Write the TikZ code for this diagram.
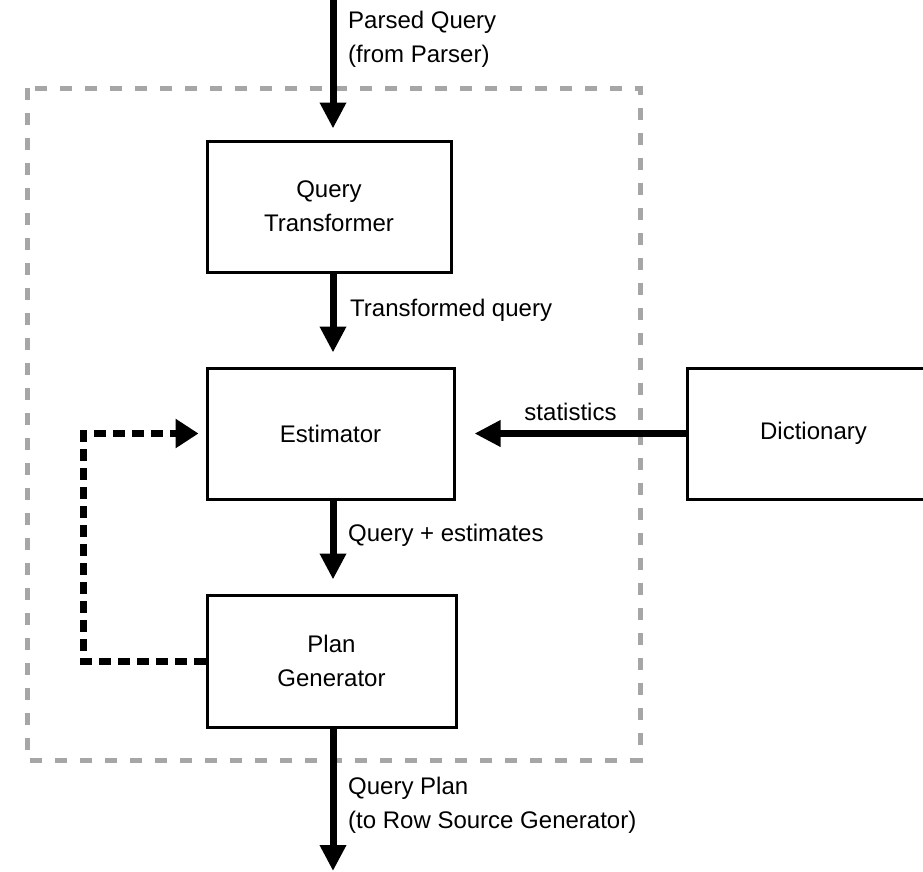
\documentclass[tikz,border=0pt]{standalone}
\usepackage{fontspec}
\setmainfont{Liberation Sans}
\usetikzlibrary{arrows.meta,calc,positioning}
\tikzset{
  box/.style={draw, line width=3pt, minimum width=244pt, minimum height=131pt, align=center, inner sep=0pt},
  flow/.style={line width=7pt, -{Triangle[length=26pt,width=25pt]}},
  feedback/.style={line width=7pt, dash pattern=on 12pt off 7pt, -{Triangle[length=23pt,width=28pt]}},
  frame/.style={black!35, line width=5pt, dash pattern=on 12pt off 13pt},
  note/.style={align=left, anchor=west, inner sep=0pt},
}
\begin{document}
\begin{tikzpicture}[x=1pt,y=-1pt,font=\fontsize{24}{34}\selectfont]
            \useasboundingbox (0,0) rectangle (923,871);
            % Optimizer frame
            \draw[frame] (27,88) rectangle (640,760);
            % Boxes
            \node[box] (qt) at (329,206.5) {Query\\Transformer};
            \node[box, minimum width=247pt] (est) at (330.5,433.5) {Estimator};
            \node[box, minimum width=249pt, minimum height=132pt] (plan) at (331.5,661) {Plan\\Generator};
            \node[box, minimum width=253pt] (dict) at (813.5,433.5) {Dictionary};
            % Define points
            \coordinate (in) at (333,0);
            \coordinate (out) at (333,871);
            \coordinate (loop) at (83,661);
            % Main flow
            \draw[flow, shorten >=11pt] (in) -- (qt.north -| in);
            \draw[flow, shorten >=14pt] (qt.south -| in) -- (est.north -| in);
            \draw[flow, shorten >=14pt] (est.south -| in) -- (plan.north -| in);
            \draw[flow] (plan.south -| in) -- (out);
            \draw[flow, shorten >=19pt] (dict.west) -- (est.east)
            node[midway, above=6pt] (stats) {statistics};
            \draw[feedback, shorten >=7pt] (plan.west) -- (loop) |- (est.west);
            % Label the arrows
            \node[note] (parsed) at (348,39) {Parsed Query\\(from Parser)};
            \node[note] (transformed) at (350,310) {Transformed query};
            \node[note] (estimates) at (348,535) {Query + estimates};
            \node[note] (planout) at (348,805) {Query Plan\\(to Row Source Generator)};
          \end{tikzpicture}
\end{document}
